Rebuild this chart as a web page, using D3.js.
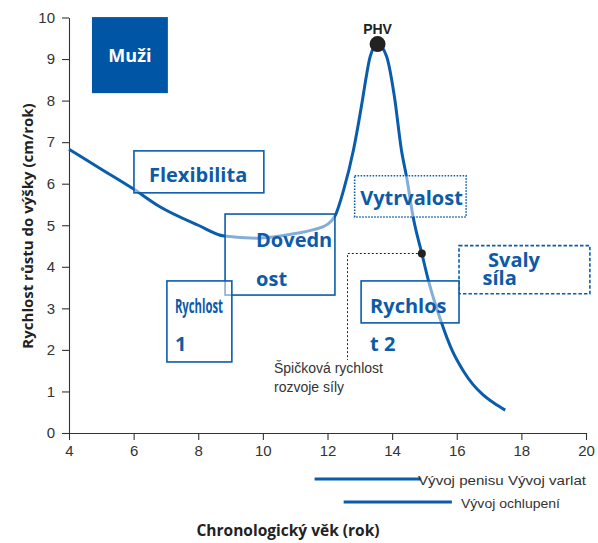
<!DOCTYPE html>
<html>
<head>
<meta charset="utf-8">
<script src="https://cdn.jsdelivr.net/npm/d3@7"></script>
<style>
  html, body { margin: 0; padding: 0; background: #fff; }
  svg { display: block; }
</style>
</head>
<body>
<div id="chart"></div>
<script>
// growth velocity curve (age in years, cm/year)
const ages = [4, 5, 6, 6.8, 8, 8.8, 9.8, 11, 11.6, 12, 12.25, 12.5, 12.8, 13.1, 13.2, 13.32, 13.55,
  13.83, 14.07, 14.29, 14.45, 14.65, 14.92, 15.12, 15.5, 15.85, 16.2, 16.5, 16.8, 17.15, 17.5];
const velocity = [6.83, 6.35, 5.87, 5.45, 5.0, 4.74, 4.69, 4.8, 4.9, 5.02, 5.25, 5.85, 6.8, 8.1, 8.58, 9.06, 9.36,
  9.06, 8.1, 6.8, 6.15, 5.2, 4.32, 3.68, 2.72, 2.0, 1.5, 1.17, 0.93, 0.72, 0.55];

const xTicks = [4, 6, 8, 10, 12, 14, 16, 18, 20];
const yTicks = [0, 1, 2, 3, 4, 5, 6, 7, 8, 9, 10];

const phv = { age: 13.55, value: 9.36, label: 'PHV' };
const strengthPeak = { age: 14.92, value: 4.32, label: ['Špičková rychlost', 'rozvoje síly'] };

// development bars under the axis: [start age, end age]
const legendBars = [[11.6, 14.9], [12.5, 15.85]];
const legendLabels = ['Vývoj penisu Vývoj varlat', 'Vývoj ochlupení'];

const width = 598, height = 543;
const blue = '#0a5cad';
const textBlue = '#0d5aa7';

const svg = d3.select('#chart').append('svg')
  .attr('width', width)
  .attr('height', height);

const x = d3.scaleLinear().domain([4, 20]).range([69, 586]);
const y = d3.scaleLinear().domain([0, 10]).range([433, 17.5]);

// axes
const xAxis = svg.append('g')
  .attr('transform', `translate(0,${y(0)})`)
  .call(d3.axisBottom(x).tickValues(xTicks).tickSize(7).tickSizeOuter(0).tickPadding(5));
const yAxis = svg.append('g')
  .attr('transform', `translate(${x(4)},0)`)
  .call(d3.axisLeft(y).tickValues(yTicks).tickSize(7).tickSizeOuter(0).tickPadding(7));

[xAxis, yAxis].forEach(g => {
  g.selectAll('path, line').attr('stroke', '#333').attr('stroke-width', 1.1);
  g.selectAll('text')
    .attr('fill', '#333')
    .attr('font-family', 'Liberation Sans, Arial, sans-serif')
    .attr('font-size', 15);
});

svg.append('text')
  .attr('transform', `translate(33,226) rotate(-90)`)
  .attr('text-anchor', 'middle')
  .attr('font-family', 'Open Sans, sans-serif')
  .attr('font-weight', 700)
  .attr('font-size', 15)
  .attr('fill', '#222')
  .text('Rychlost růstu do výšky (cm/rok)');

svg.append('text')
  .attr('x', 288)
  .attr('y', 536)
  .attr('text-anchor', 'middle')
  .attr('font-family', 'Open Sans, sans-serif')
  .attr('font-weight', 700)
  .attr('font-size', 15.5)
  .attr('fill', '#222')
  .text('Chronologický věk (rok)');

// the curve
const line = d3.line()
  .x((d, i) => x(ages[i]))
  .y(d => y(d))
  .curve(d3.curveMonotoneX);

svg.append('path')
  .datum(velocity)
  .attr('d', line)
  .attr('fill', 'none')
  .attr('stroke', blue)
  .attr('stroke-width', 3);

// leader to peak strength dot
svg.append('path')
  .attr('d', `M${x(strengthPeak.age)},${y(strengthPeak.value)} H347.5 V360`)
  .attr('fill', 'none')
  .attr('stroke', '#222')
  .attr('stroke-width', 1)
  .attr('stroke-dasharray', '2,2');

// annotation boxes (age / value extents), drawn over the curve
const boxes = [
  { x0: 6.01, x1: 10.03, y0: 6.79, y1: 5.78, dash: null, lines: [['Flexibilita', 15, 31]] },
  { x0: 8.83, x1: 12.23, y0: 5.27, y1: 3.32, dash: null, lines: [['Dovedn', 31, 33], ['ost', 31, 72]] },
  { x0: 7.03, x1: 9.04, y0: 3.66, y1: 1.71, dash: null, narrow: true, lines: [['Rychlost', 8, 32], ['1', 8, 70]] },
  { x0: 12.84, x1: 16.29, y0: 6.19, y1: 5.2, dash: '1.5,1.5', lines: [['Vytrvalost', 5.5, 29]] },
  { x0: 16.07, x1: 20.12, y0: 4.51, y1: 3.35, dash: '3.5,2', lines: [['Svaly', 29, 21], ['síla', 23.5, 39.5]] },
  { x0: 13.04, x1: 16.07, y0: 3.66, y1: 2.65, dash: null, lines: [['Rychlos', 9, 32], ['t 2', 9, 70]] }
];

boxes.forEach(b => {
  const bx = x(b.x0), by = y(b.y0);
  svg.append('rect')
    .attr('x', bx)
    .attr('y', by)
    .attr('width', x(b.x1) - bx)
    .attr('height', y(b.y1) - by)
    .attr('fill', 'rgba(255,255,255,0.5)')
    .attr('stroke', blue)
    .attr('stroke-width', 1.6)
    .attr('stroke-dasharray', b.dash);
  b.lines.forEach(([t, dx, dy]) => {
    const txt = svg.append('text')
      .attr('x', bx + dx)
      .attr('y', by + dy)
      .attr('font-family', 'Open Sans, sans-serif')
      .attr('font-weight', 700)
      .attr('font-size', 20)
      .attr('fill', textBlue)
      .text(t);
    if (b.narrow && t.length > 1) {
      txt.attr('textLength', 48).attr('lengthAdjust', 'spacingAndGlyphs').attr('font-size', 19);
    }
  });
});

// Muži badge
svg.append('rect')
  .attr('x', x(4.71))
  .attr('y', y(10.01))
  .attr('width', x(7.06) - x(4.71))
  .attr('height', y(8.18) - y(10.01))
  .attr('fill', '#0055a5');
svg.append('text')
  .attr('x', (x(4.71) + x(7.06)) / 2)
  .attr('y', 62)
  .attr('text-anchor', 'middle')
  .attr('font-family', 'Open Sans, sans-serif')
  .attr('font-weight', 700)
  .attr('font-size', 18)
  .attr('fill', '#fff')
  .text('Muži');

// dots
svg.append('circle')
  .attr('cx', x(phv.age))
  .attr('cy', y(phv.value))
  .attr('r', 8)
  .attr('fill', '#222');
svg.append('text')
  .attr('x', x(phv.age))
  .attr('y', 34)
  .attr('text-anchor', 'middle')
  .attr('font-family', 'Liberation Sans, Arial, sans-serif')
  .attr('font-weight', 700)
  .attr('font-size', 14)
  .attr('fill', '#222')
  .text(phv.label);

svg.append('circle')
  .attr('cx', x(strengthPeak.age))
  .attr('cy', y(strengthPeak.value))
  .attr('r', 4)
  .attr('fill', '#222');

svg.selectAll('.peaklbl')
  .data(strengthPeak.label)
  .enter()
  .append('text')
  .attr('x', 274)
  .attr('y', (d, i) => 373 + i * 19)
  .attr('font-family', 'Liberation Sans, Arial, sans-serif')
  .attr('font-size', 14)
  .attr('fill', '#333')
  .text(d => d);

// development bars
const barY = [479, 502];
legendBars.forEach((b, i) => {
  svg.append('line')
    .attr('x1', x(b[0]))
    .attr('x2', x(b[1]))
    .attr('y1', barY[i])
    .attr('y2', barY[i])
    .attr('stroke', blue)
    .attr('stroke-width', 3);
});
const lblPos = [[418, 485, 168], [461, 508, 99]];
legendLabels.forEach((t, i) => {
  svg.append('text')
    .attr('x', lblPos[i][0])
    .attr('y', lblPos[i][1])
    .attr('font-family', 'Liberation Sans Narrow, Liberation Sans, Arial, sans-serif')
    .attr('font-size', 13.5)
    .attr('fill', '#333')
    .attr('textLength', lblPos[i][2])
    .attr('lengthAdjust', 'spacingAndGlyphs')
    .text(t);
});
</script>
</body>
</html>
